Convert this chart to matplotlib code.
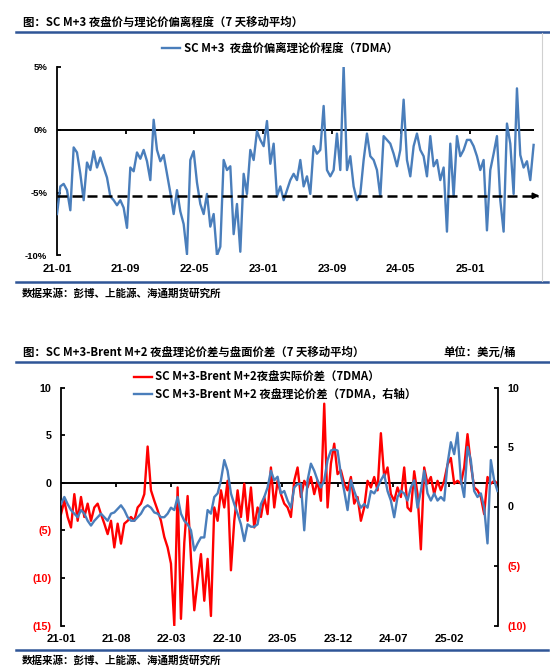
import matplotlib
matplotlib.use('Agg')
import matplotlib.pyplot as plt
from matplotlib.lines import Line2D
import pandas as pd

CJK = ['Noto Sans CJK SC', 'DejaVu Sans']
NUM = ['Liberation Sans', 'DejaVu Sans']
plt.rcParams['font.family'] = CJK

# ---------------- data ----------------
# Top chart: SC M+3 night price deviation from theoretical price (%), 7DMA
top_dev = [
    -6.7, -4.5, -4.3, -4.8, -6.4, -1.4, -1.8, -3.5, -5.6, -2.6, -3.2, -1.7, -3.0, -2.2, -3.0,
    -3.8, -5.3, -5.6, -6.0, -5.6, -6.2, -7.8, -3.0, -3.3, -1.8, -2.3, -1.6, -2.5, -4.0, 0.8,
    -1.6, -2.5, -2.0, -3.5, -5.0, -6.7, -4.8, -6.5, -7.5, -9.9, -2.4, -1.7, -4.2, -5.9,
    -6.7, -5.1, -7.7, -6.7, -10.0, -9.3, -2.4, -3.2, -2.9, -8.3, -5.9, -9.7, -3.5, -5.1, -1.6,
    -2.4, -0.1, -0.8, -1.3, 0.7, -2.7, -1.1, -5.3, -4.5, -5.6, -4.8, -4.0, -3.5, -4.0, -2.4,
    -4.5, -3.7, -5.1, -1.3, -1.9, -1.6, 1.9, -3.2, -3.7, -3.2, -0.3, -3.2, 5.1, -3.2, -2.1, -4.5,
    -5.6, -5.1, -2.4, -0.3, -2.1, -2.4, -3.2, -5.3, -0.5, -0.8, -1.1, -1.9, -2.9, -1.6, 2.4,
    -2.4, -3.7, -1.3, -0.3, -1.6, -2.1, -3.7, -0.5, -2.9, -2.4, -4.0, -3.0, -8.1, -1.1, -5.3,
    -0.5, -2.1, -1.6, -0.8, -0.8, -1.3, -2.1, -3.2, -2.4, -8.0, -3.2, -1.9, -0.5, -5.6, -8.1,
    0.5, -1.1, -5.1, 3.3, -2.0, -3.0, -2.5, -4.0, -1.2,
]
top_start, top_end = '2021-01-01', '2025-08-14'
top_ref_level = -5.25

# Bottom chart: SC M+3 - Brent M+2 night spreads (USD/bbl), 7DMA
bot_actual = [
    -3.3, -1.9, -3.6, -4.7, -1.2, -4.0, -1.5, -3.6, -2.2, -4.0, -2.6, -2.2, -3.3, -4.3, -5.4,
    -4.0, -6.8, -4.3, -6.4, -4.3, -4.0, -3.6, -4.0, -2.6, -2.2, -1.2, 3.8, -0.8, -1.9, -2.9,
    -4.0, -5.7, -6.8, -8.5, -15.0, -0.5, -14.3, -6.3, -1.4, -7.9, -13.4, -10.3, -7.5, -12.4, -8.0,
    -14.0, -2.6, -4.0, -0.8, -2.6, 0.2, -9.2, -4.0, -0.8, -3.6, -0.1, -4.0, -0.5, -4.7, -2.6,
    -3.6, -1.5, -3.3, 1.6, -2.6, 0.2, -1.2, -2.2, -2.6, -3.6, 0.2, 1.6, -1.5, 0.2, -0.5,
    0.6, -1.2, 0.2, -1.9, 8.3, -2.6, 2.0, 4.1, 0.9, 1.3, -0.1, -0.8, 0.6, -2.2,
    -1.5, -4.0, -2.6, 0.2, -0.5, 0.6, -0.8, 5.2, 0.6, 1.6, -1.2, -1.9, -0.5, -1.5, 1.6,
    -2.6, -3.0, 1.2, -1.2, -7.0, 1.6, -0.1, 0.6, -1.2, 0.2, -0.8, 0.2, 1.9, 2.6, -0.1,
    0.2, -0.1, 1.6, 5.1, 1.9, -0.5, -0.8, -1.5, -3.3, 0.6, -0.1, 0.2, -0.1,
]
bot_theory = [
    0.2, 0.8, 0.2, -0.3, -0.6, -0.9, -0.3, -0.6, -1.2, -1.6, -1.2, -0.9, -0.6, -0.9, -1.2,
    -0.6, -0.5, -0.2, 0.1, -0.3, -0.9, -1.2, -1.2, -0.9, -0.6, -0.1, 0.1, -0.1, -0.5, -0.6,
    -0.9, -0.9, -0.6, -0.1, -0.3, 0.8, -0.6, -1.2, -1.5, -2.0, -3.7, -3.1, -2.6, -2.6, -0.3,
    -0.6, 0.8, 1.1, 2.2, 3.9, 3.0, 1.1, 0.2, -0.6, -1.5, -2.9, -1.5, -1.7, -1.7, -1.5,
    0.2, 0.8, 1.6, 3.0, 2.2, 2.5, 1.1, 1.3, 0.5, -0.1, 1.6, 1.9, 1.9, -2.0, 2.2,
    3.6, 3.0, 2.2, 1.6, 2.2, 3.9, 4.7, 4.8, 4.7, 2.7, 1.3, -0.3, 2.2, 1.3,
    0.5, -0.1, 0.2, -0.1, 1.3, 1.1, 1.6, 2.2, 2.7, 1.3, 0.5, -0.9, 0.8, 1.3, 1.1,
    0.5, 1.6, 2.2, -0.1, 1.3, 3.0, 1.1, 0.5, 1.1, 0.5, 0.8, 0.5, 3.6, 5.4, 4.4,
    6.2, 2.2, 0.8, 5.0, 3.9, 1.3, 0.8, 1.1, -0.1, -3.1, 3.9, 2.2, 1.3,
]
bot_start, bot_end = '2021-01-01', '2025-08-06'

top_yticks = [5, 0, -5, -10]
top_ylabels = ['5%', '0%', '-5%', '-10%']
bot_left_ticks = [10, 5, 0, -5, -10, -15]
bot_left_labels = ['10', '5', '0', '(5)', '(10)', '(15)']
bot_right_ticks = [10, 5, 0, -5, -10]
bot_right_labels = ['10', '5', '0', '(5)', '(10)']

top_title = '图：SC M+3 夜盘价与理论价偏离程度（7 天移动平均）'
top_legend = 'SC M+3  夜盘价偏离理论价程度（7DMA）'
source_text = '数据来源：彭博、上能源、海通期货研究所'
bot_title = '图：SC M+3-Brent M+2 夜盘理论价差与盘面价差（7 天移动平均）'
bot_unit = '单位：美元/桶'
bot_leg1 = 'SC M+3-Brent M+2夜盘实际价差（7DMA）'
bot_leg2 = 'SC M+3-Brent M+2 夜盘理论价差（7DMA，右轴）'

# ---------------- styling ----------------
BLUE = '#4A7EBB'
RED = '#FF0000'
RULE = '#2F5597'
W, H = 550, 667
LW = 1.7
TICKFONT = dict(fontfamily=NUM, fontweight='bold')

def fx(x):
    return x / W

def fy(y):
    return 1 - y / H

fig = plt.figure(figsize=(W / 100, H / 100), dpi=100)

# ---------------- top chart ----------------
top_dates = pd.date_range(top_start, top_end, periods=len(top_dev))
ax1 = fig.add_axes([fx(57), fy(255.5), fx(540.4) - fx(57), fy(67) - fy(255.5)])
ax1.set_xlim(top_dates[0], top_dates[-1] + pd.Timedelta(days=24))
ax1.set_ylim(-10, 5)
ax1.hlines(0, top_dates[0], top_dates[-1], color='k', lw=1.4, zorder=1)
ax1.plot(top_dates, top_dev, color=BLUE, lw=LW, zorder=3, solid_joinstyle='round')
arrow_end = top_dates[-1] + pd.Timedelta(days=20)
ax1.plot([top_dates[0], arrow_end - pd.Timedelta(days=6)], [top_ref_level] * 2,
         color='k', lw=1.8, dashes=(4, 2), zorder=4)
ax1.annotate('', xy=(arrow_end, top_ref_level),
             xytext=(arrow_end - pd.Timedelta(days=14), top_ref_level),
             arrowprops=dict(arrowstyle='-|>', color='k', lw=1.5, mutation_scale=8,
                             shrinkA=0, shrinkB=0), zorder=4)
for s in ['top', 'right', 'bottom']:
    ax1.spines[s].set_visible(False)
ax1.spines['left'].set_linewidth(1.3)
xt1 = pd.date_range('2021-01-01', periods=7, freq='8MS')
ax1.set_xticks(xt1, labels=[d.strftime('%y-%m') for d in xt1], fontsize=8.2, **TICKFONT)
ax1.tick_params(axis='x', length=0, pad=6)
ax1.plot(xt1[1:], [0] * (len(xt1) - 1), ls='none', marker=3, ms=3, mew=1.3, color='k', zorder=2)
ax1.set_yticks(top_yticks, labels=top_ylabels, fontsize=6.8, **TICKFONT)
ax1.tick_params(axis='y', direction='in', length=3, width=1.3, pad=7)
ax1.legend(handles=[Line2D([], [], color=BLUE, lw=1.7)], labels=[top_legend],
           loc='center', bbox_to_anchor=(fx(280), fy(48)), bbox_transform=fig.transFigure,
           frameon=False, handlelength=1.6, handletextpad=0.3,
           prop={'family': CJK, 'size': 8.2, 'weight': 'bold'})

# ---------------- bottom chart ----------------
bot_dates = pd.date_range(bot_start, bot_end, periods=len(bot_actual))
ax2 = fig.add_axes([fx(61), fy(625.5), fx(497.5) - fx(61), fy(387.5) - fy(625.5)])
ax2.set_xlim(bot_dates[0], bot_dates[-1])
ax2.set_ylim(-15, 10)
ax2.axhline(0, color='k', lw=1.4, zorder=1)
ax2.plot(bot_dates, bot_actual, color=RED, lw=LW, zorder=2, solid_joinstyle='round')
xt2 = pd.date_range('2021-01-01', periods=8, freq='7MS')
ax2.set_xticks(xt2, labels=[d.strftime('%y-%m') for d in xt2], fontsize=8.2, **TICKFONT)
ax2.tick_params(axis='x', length=0, pad=6)
ax2.plot(xt2[1:], [0] * (len(xt2) - 1), ls='none', marker=3, ms=3, mew=1.3, color='k', zorder=1)
ax2.set_yticks(bot_left_ticks, labels=bot_left_labels, fontsize=7.7, **TICKFONT)
ax2.tick_params(axis='y', direction='in', length=3, width=1.3, pad=7)
for lbl, v in zip(ax2.get_yticklabels(), bot_left_ticks):
    lbl.set_color(RED if v < 0 else 'black')
for s in ['top', 'right', 'bottom']:
    ax2.spines[s].set_visible(False)
ax2.spines['left'].set_linewidth(1.3)

ax3 = ax2.twinx()
ax3.set_ylim(-10, 10)
ax3.plot(bot_dates, bot_theory, color=BLUE, lw=LW, zorder=3, solid_joinstyle='round')
ax3.set_yticks(bot_right_ticks, labels=bot_right_labels, fontsize=7.7, **TICKFONT)
ax3.tick_params(axis='y', direction='in', length=3, width=1.3, pad=7)
for lbl, v in zip(ax3.get_yticklabels(), bot_right_ticks):
    lbl.set_color(RED if v < 0 else 'black')
for s in ['top', 'left', 'bottom']:
    ax3.spines[s].set_visible(False)
ax3.spines['right'].set_linewidth(1.3)
ax3.legend(handles=[Line2D([], [], color=RED, lw=1.7), Line2D([], [], color=BLUE, lw=1.7)],
           labels=[bot_leg1, bot_leg2], loc='center',
           bbox_to_anchor=(fx(275), fy(385.5)), bbox_transform=fig.transFigure,
           frameon=False, handlelength=1.6, handletextpad=0.3, labelspacing=0.35,
           prop={'family': CJK, 'size': 8.2, 'weight': 'bold'})

# ---------------- titles, rules, sources ----------------
def rule(y, x0=16, x1=550):
    fig.add_artist(Line2D([fx(x0), fx(x1)], [fy(y), fy(y)], transform=fig.transFigure,
                          color=RULE, lw=1.8))

fig.text(fx(23), fy(22), top_title, fontsize=8.2, fontweight='bold', va='center', ha='left')
rule(32)
rule(282, x1=548)
fig.add_artist(Line2D([fx(542), fx(542)], [fy(33), fy(281)], transform=fig.transFigure,
                      color='#D0D0D0', lw=0.8))
fig.text(fx(22), fy(293), source_text, fontsize=7.6, fontweight='bold', va='center', ha='left')

fig.text(fx(23), fy(352), bot_title, fontsize=8.2, fontweight='bold', va='center', ha='left')
fig.text(fx(516), fy(352), bot_unit, fontsize=8.2, fontweight='bold', va='center', ha='right')
rule(362)
rule(650, x1=548)
fig.text(fx(22), fy(660), source_text, fontsize=7.6, fontweight='bold', va='center', ha='left')

fig.savefig('out.png', dpi=100)
